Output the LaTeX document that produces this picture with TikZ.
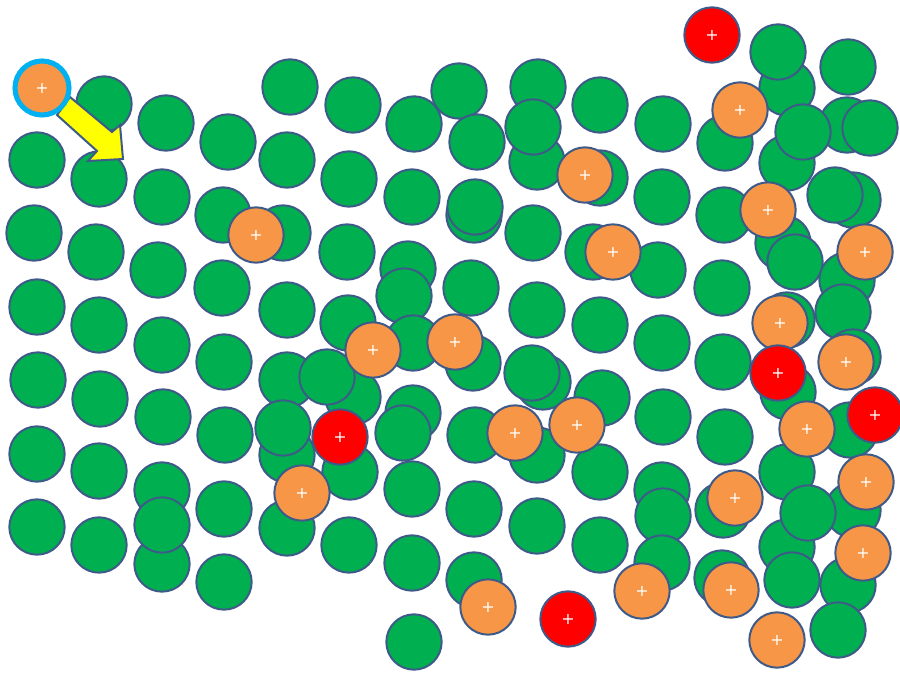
\documentclass[tikz,border=0pt]{standalone}
\usepackage{fontspec}
\newfontfamily\plusface{DejaVu Sans}
\definecolor{pgreen}{RGB}{0,176,80}
\definecolor{porange}{RGB}{247,150,70}
\definecolor{pred}{RGB}{255,0,0}
\definecolor{edge}{RGB}{62,90,136}
\definecolor{pcyan}{RGB}{0,176,240}
\definecolor{pyellow}{RGB}{255,255,0}
\begin{document}
\begin{tikzpicture}[x=0.75pt,y=-0.75pt,
  ball/.style={circle, draw=edge, line width=1.5pt, minimum size=41.5pt, inner sep=0pt},
  gball/.style={ball, fill=pgreen},
  plusfont/.style={text=white, font=\plusface\fontsize{12}{12}\selectfont},
  oball/.style={ball, fill=porange, plusfont},
  rball/.style={ball, fill=pred, plusfont},
  ringball/.style={circle, draw=pcyan, line width=3.8pt, fill=porange, minimum size=40.5pt, inner sep=0pt, plusfont},
  arrowshape/.style={fill=pyellow, draw=edge, line width=1.5pt, line join=miter}]
\useasboundingbox (0,0) rectangle (900,673);
\fill[white] (0,0) rectangle (900,673);
% green particles
\foreach \px/\py [count=\i] in {
 37/160,34/233,37/307,38/380,37/454,37/527,
 104/104,99/179,96/252,99/325,100/399,99/471,99/545,
 166/123,162/197,158/270,162/345,163/417,162/490,162/564,162/525,
 228/142,223/215,222/288,224/362,225/435,224/509,224/582,
 290/87,287/160,283/233,287/310,287/380,287/455,283/428,287/528,
 353/105,349/179,347/252,348/323,353/397,327/377,350/472,349/545,
 414/124,412/197,408/269,404/296,413/343,413/413,403/433,412/489,412/563,414/642,
 459/91,477/142,474/215,475/207,471/288,473/363,475/435,474/509,474/580,
 538/87,537/162,533/127,533/233,537/310,543/382,532/373,537/455,537/526,
 600/105,600/178,593/252,600/325,602/398,600/472,600/545,
 663/124,662/197,658/270,662/343,663/417,662/490,663/516,662/563,
 725/143,724/215,722/288,723/362,725/437,723/510,722/578,
 787/88,778/52,848/67,787/163,847/125,870/128,803/132,853/200,835/195,
 783/243,795/262,847/280,843/312,787/320,853/357,788/392,850/430,
 787/472,787/547,853/510,808/513,848/585,792/580,838/630}
 \node[gball] (g\i) at (\px,\py) {};
% yellow arrow
\draw[arrowshape] (70,97) -- (112,132) -- (120,125) -- (123,159) -- (88,161) -- (97,151) -- (57,115) -- cycle;
\node[ringball] (start) at (42,88) {+};
% orange particles
\foreach \px/\py [count=\i] in {
 256/235,373/350,455/342,585/175,613/252,515/433,577/425,302/493,488/607,642/591,
 740/110,768/210,865/252,780/323,846/362,807/429,866/482,735/498,863/553,731/590,777/640}
 \node[oball] (o\i) at (\px,\py) {+};
% red particles
\foreach \px/\py [count=\i] in {340/437,568/619,712/35,778/373,875/415}
 \node[rball] (r\i) at (\px,\py) {+};
\end{tikzpicture}
\end{document}
